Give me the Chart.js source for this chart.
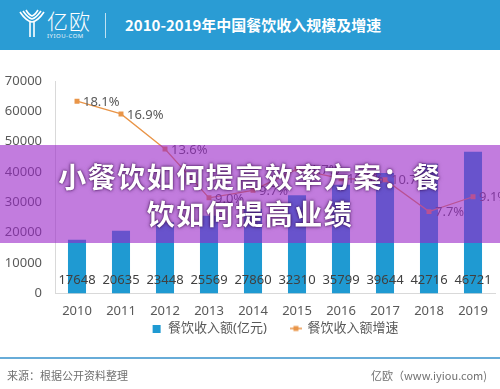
<!DOCTYPE html>
<html>
<head>
<meta charset="utf-8">
<script src="https://cdn.jsdelivr.net/npm/chart.js@4.4.1/dist/chart.umd.min.js"></script>
<style>
html, body { margin: 0; padding: 0; background: #fff; }
body { width: 500px; height: 389px; position: relative; overflow: hidden;
  font-family: "Noto Sans CJK SC", "Noto Sans", sans-serif; }
#head { position: absolute; left: 0; top: 0; width: 500px; height: 50px; background: #2a9cd4; }
#logo { position: absolute; left: 18px; top: 9px; }
#brand { position: absolute; left: 47px; top: 8px; color: #fff; font-size: 21px; font-weight: 300; line-height: 24px; letter-spacing: 1px; }
#brandsub { position: absolute; left: 47px; top: 33px; color: #e8f4fb; font-size: 6px; line-height: 7px; letter-spacing: 0.5px; font-family: "Noto Sans", sans-serif; }
#divider { position: absolute; left: 105px; top: 13px; width: 1px; height: 25px; background: rgba(255,255,255,0.7); }
#title { position: absolute; left: 125px; top: 15px; color: #fff; font-size: 15px; font-weight: 700; line-height: 20px; white-space: nowrap; }
#wrap { position: absolute; left: 0; top: 55px; width: 500px; height: 313px; }
#footline { position: absolute; left: 0; top: 357px; width: 500px; height: 2px; background: #67acd8; }
#src { position: absolute; left: 7px; top: 367px; color: #707070; font-size: 11px; line-height: 16px; }
#site { position: absolute; right: 13px; top: 367px; color: #707070; font-size: 11px; line-height: 16px; }
#banner { position: absolute; left: 0; top: 145px; width: 500px; height: 98px; background: rgba(153,37,200,0.6);
  color: #fff; font-size: 28px; font-weight: 700; line-height: 37px; letter-spacing: 1.5px; text-align: center;
  padding-top: 13px; box-sizing: border-box;
  text-shadow: 0 0 2px rgba(50,0,70,0.9), 0 0 4px rgba(50,0,70,0.6); }
</style>
</head>
<body>
<div id="head">
  <svg id="logo" width="28" height="30" viewBox="0 0 28 30">
    <g fill="none" stroke="#fff" stroke-width="1.6">
      <path d="M2 3 Q8 12 14 13 Q20 12 26 3"/>
      <path d="M5 2 Q10 9 14 10 Q18 9 23 2"/>
      <path d="M8 1 Q11 6 14 7 Q17 6 20 1"/>
      <path d="M12 13 L12 28"/>
      <path d="M16 13 L16 28"/>
    </g>
  </svg>
  <div id="brand">亿欧</div>
  <div id="brandsub">IYIOU-COM</div>
  <div id="divider"></div>
  <div id="title">2010-2019年中国餐饮收入规模及增速</div>
</div>

<div id="wrap"><canvas id="myChart" width="500" height="313"></canvas></div>

<div id="footline"></div>
<div id="src">来源：根据公开资料整理</div>
<div id="site">亿欧（www.iyiou.com)</div>

<div id="banner">小餐饮如何提高效率方案：餐<br>饮如何提高业绩</div>

<script>
const years = ['2010', '2011', '2012', '2013', '2014', '2015', '2016', '2017', '2018', '2019'];
const revenue = [17648, 20635, 23448, 25569, 27860, 32310, 35799, 39644, 42716, 46721];
const growth = [18.1, 16.9, 13.6, 9.0, 9.7, 11.7, 10.8, 10.7, 7.7, 9.1];
const seriesNames = ['餐饮收入额(亿元)', '餐饮收入额增速'];

const BLUE = '#1f9ad2';
const ORANGE = '#e99548';
const TEXT = '#595959';
const FONT = '"Noto Sans", "Noto Sans CJK SC", sans-serif';

// legend markers: plain square for the bars, "-■-" for the line
function squareMarker() {
  let c = document.createElement('canvas');
  c.width = 10; c.height = 8;
  let g = c.getContext('2d');
  g.fillStyle = BLUE; g.fillRect(1, 0, 8, 8);
  return c;
}
function lineMarker() {
  let c = document.createElement('canvas');
  c.width = 12; c.height = 8;
  let g = c.getContext('2d');
  g.strokeStyle = ORANGE; g.lineWidth = 1.5;
  g.beginPath(); g.moveTo(0, 4); g.lineTo(12, 4); g.stroke();
  g.fillStyle = ORANGE; g.fillRect(3.5, 1.5, 5, 5);
  return c;
}

// value labels: numbers inside the bars, percents beside the points
const valueLabels = {
  id: 'valueLabels',
  afterDatasetsDraw(chart) {
    let ctx = chart.ctx;
    let base = chart.scales.y.getPixelForValue(0);
    ctx.save();
    ctx.font = '13px ' + FONT;
    ctx.textBaseline = 'middle';
    ctx.textAlign = 'center';
    ctx.fillStyle = '#404040';
    chart.getDatasetMeta(1).data.forEach((bar, i) => {
      ctx.fillText(String(revenue[i]), bar.x, base - 13);
    });
    ctx.textAlign = 'left';
    ctx.fillStyle = TEXT;
    chart.getDatasetMeta(0).data.forEach((pt, i) => {
      ctx.fillText(growth[i].toFixed(1) + '%', pt.x + 6, pt.y + 1);
    });
    ctx.restore();
  }
};

// the legend keeps wide gaps between items but sits close under the year labels
const liftLegend = {
  id: 'liftLegend',
  afterLayout(chart) {
    chart.legend.top -= 23;
    chart.legend.bottom -= 23;
  }
};

const data = {
  labels: years,
  datasets: [
    {
      type: 'line',
      label: seriesNames[1],
      data: growth,
      yAxisID: 'y2',
      borderColor: ORANGE,
      backgroundColor: ORANGE,
      borderWidth: 1.3,
      pointStyle: 'rect',
      pointRadius: 3.5,
      pointBorderWidth: 0,
      tension: 0,
      order: 0
    },
    {
      type: 'bar',
      label: seriesNames[0],
      data: revenue,
      yAxisID: 'y',
      backgroundColor: BLUE,
      categoryPercentage: 0.41,
      barPercentage: 1,
      order: 1
    }
  ]
};

const config = {
  type: 'bar',
  data: data,
  options: {
    responsive: false,
    animation: false,
    layout: { padding: { left: 0, right: 5, top: 26, bottom: 0 } },
    plugins: {
      tooltip: { enabled: false },
      legend: {
        position: 'bottom',
        fullSize: false,
        labels: {
          color: TEXT,
          font: { size: 13, family: FONT },
          usePointStyle: true,
          pointStyleWidth: 10,
          boxHeight: 8,
          padding: 24,
          generateLabels: () => [
            { text: seriesNames[0], fillStyle: BLUE, strokeStyle: BLUE, lineWidth: 0, pointStyle: squareMarker(), fontColor: TEXT, hidden: false, datasetIndex: 1 },
            { text: seriesNames[1], fillStyle: ORANGE, strokeStyle: ORANGE, lineWidth: 0, pointStyle: lineMarker(), fontColor: TEXT, hidden: false, datasetIndex: 0 }
          ]
        }
      }
    },
    scales: {
      x: {
        grid: { display: false },
        border: { color: '#d9d9d9' },
        ticks: { color: TEXT, font: { size: 13, family: FONT }, padding: 2 }
      },
      y: {
        min: 0,
        max: 70000,
        grid: { display: false },
        border: { color: '#d9d9d9' },
        ticks: { stepSize: 10000, color: TEXT, font: { size: 13, family: FONT }, padding: 5,
          callback: v => String(v) },
        afterFit(scale) { scale.width = 55; }
      },
      y2: { display: false, min: 0, max: 20 }
    }
  },
  plugins: [valueLabels, liftLegend]
};

const myChart = new Chart(document.getElementById('myChart'), config);
</script>
</body>
</html>
